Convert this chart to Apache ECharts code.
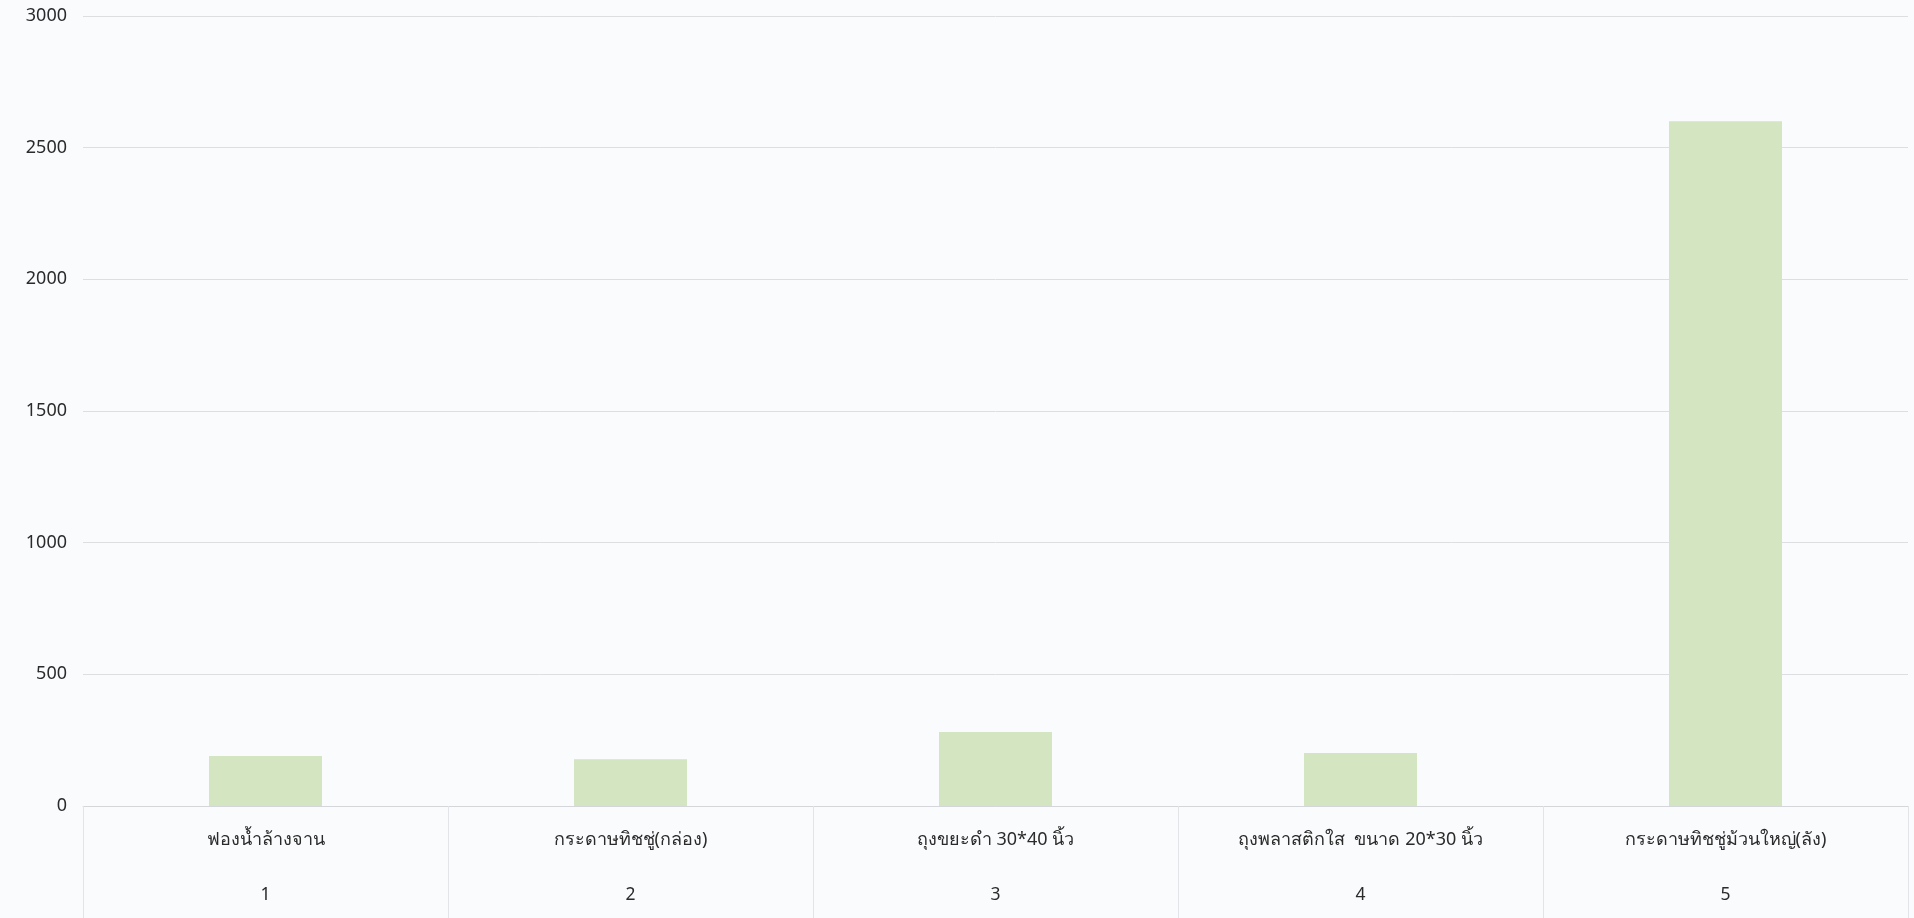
<!DOCTYPE html>
<html>
<head>
<meta charset="utf-8">
<script src="https://cdn.jsdelivr.net/npm/echarts@6/dist/echarts.min.js"></script>
<style>
html,body{margin:0;padding:0;background:#fafbfd;}
#c{width:1914px;height:918px;}
</style>
</head>
<body>
<div id="c"></div>
<script>
const categories = ["ฟองน้ำล้างจาน", "กระดาษทิชชู่(กล่อง)", "ถุงขยะดำ 30*40 นิ้ว", "ถุงพลาสติกใส  ขนาด 20*30 นิ้ว", "กระดาษทิชชู่ม้วนใหญ่(ลัง)"];
const indexLabels = ["1", "2", "3", "4", "5"];
const values = [190, 178, 281, 201, 2600];

const chart = echarts.init(document.getElementById('c'));
const font = 'Tahoma, "Noto Sans", "DejaVu Sans", sans-serif';
chart.setOption({
  backgroundColor: '#fafbfd',
  animation: false,
  grid: { left: 83, right: 6, top: 16, bottom: 112, containLabel: false },
  xAxis: {
    type: 'category',
    data: categories,
    boundaryGap: true,
    axisLine: { show: true, lineStyle: { color: '#d4d6d9', width: 1 } },
    axisTick: { show: true, length: 112, lineStyle: { color: '#e2e4e8', width: 1 } },
    axisLabel: {
      interval: 0,
      margin: 14,
      formatter: function (v, i) { return '{n|' + v + '}\n{i|' + indexLabels[i] + '}'; },
      rich: {
        n: { fontSize: 18, lineHeight: 40, color: '#2b2b2b', fontFamily: font },
        i: { fontSize: 17.5, lineHeight: 70, color: '#2b2b2b', fontFamily: font }
      }
    }
  },
  yAxis: {
    type: 'value',
    min: 0,
    max: 3000,
    interval: 500,
    axisLine: { show: false },
    axisTick: { show: false },
    axisLabel: { fontSize: 18, color: '#2b2b2b', margin: 16, fontFamily: font, formatter: function (v) { return String(v); } },
    splitLine: { lineStyle: { color: '#dcdee2', width: 1 } }
  },
  series: [{
    type: 'bar',
    data: values,
    barWidth: 113,
    itemStyle: { color: '#d4e5c1' }
  }]
});
</script>
</body>
</html>
